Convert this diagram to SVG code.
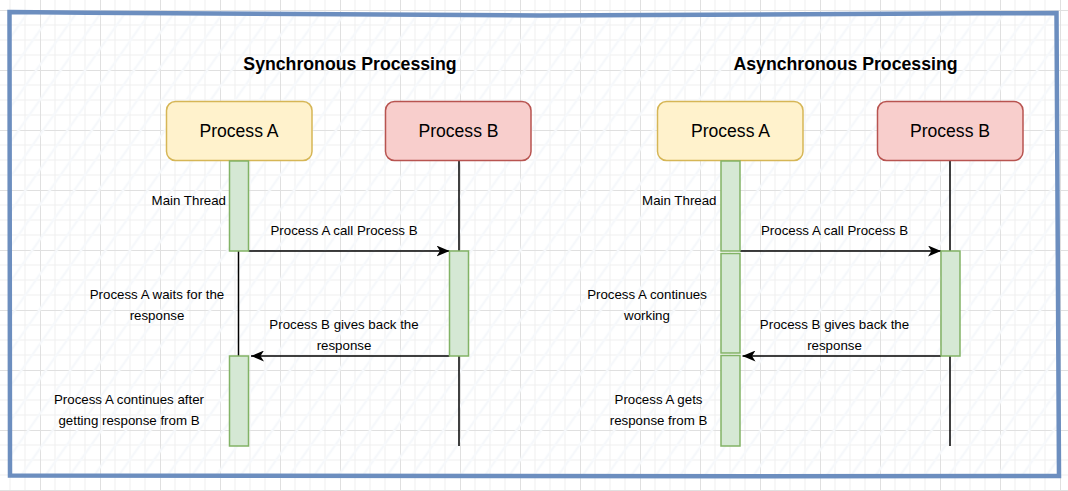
<svg xmlns="http://www.w3.org/2000/svg" width="1068" height="491" viewBox="0 0 1068 491">
  <style>
    text { font-family: "Liberation Sans", Arial, Helvetica, sans-serif; fill: #000; }
    .title { font-size: 17.7px; font-weight: bold; text-anchor: middle; }
    .pname { font-size: 17.6px; text-anchor: middle; }
    .lbl { font-size: 13.3px; text-anchor: middle; }
    .lblr { font-size: 13.3px; text-anchor: end; }
    .procA { fill: #fff2cc; stroke: #d6b656; stroke-width: 1.5; }
    .procB { fill: #f8cecc; stroke: #b85450; stroke-width: 1.5; }
    .act { fill: #d5e8d4; stroke: #82b366; stroke-width: 1.5; }
    .life { stroke: #000; stroke-width: 1.5; fill: none; }
    .msg { stroke: #000; stroke-width: 1.5; fill: none; marker-end: url(#arrow); }
  </style>
  <defs>
    <pattern id="grid" patternUnits="userSpaceOnUse" x="40" y="10" width="60" height="60">
      <rect width="60" height="60" fill="#ffffff"/>
      <path d="M15,0 V60 M30,0 V60 M45,0 V60 M0,15 H60 M0,30 H60 M0,45 H60" stroke="#efefef" stroke-width="1" fill="none"/>
      <path d="M0.5,0 V60 M0,0.5 H60" stroke="#e0e0e0" stroke-width="1" fill="none"/>
    </pattern>
    <pattern id="hatch" patternUnits="userSpaceOnUse" width="20" height="20" patternTransform="rotate(35)">
      <line x1="10" y1="0" x2="10" y2="20" stroke="#f6f8fb" stroke-width="2.5"/>
    </pattern>
    <marker id="arrow" markerUnits="userSpaceOnUse" viewBox="0 0 13 11" refX="13" refY="5.5" markerWidth="13" markerHeight="11" orient="auto">
      <path d="M0,0 L13,5.5 L0,11 L3.5,5.5 Z" fill="#000"/>
    </marker>
  </defs>

  <rect x="0" y="0" width="1068" height="491" fill="url(#grid)"/>

  <g id="frame">
    <path d="M9.5,12 C200,13.5 400,15.5 540,15.5 C760,15.5 900,13.5 1056.5,13 L1059,476 C700,476.5 300,476 10,475.5 Z" fill="url(#hatch)" stroke="none"/>
    <path d="M9.5,12 C200,13.5 400,15.5 540,15.5 C760,15.5 900,13.5 1056.5,13 L1059,476 C700,476.5 300,476 10,475.5 Z" fill="none" stroke="#6c8ebf" stroke-width="4.5" stroke-linejoin="miter"/>
  </g>

  <g id="connectors">
    <line class="life" x1="238.5" y1="251" x2="238.5" y2="356"/>
    <line class="life" x1="459" y1="161" x2="459" y2="251"/>
    <line class="life" x1="459" y1="356" x2="459" y2="446"/>
    <line class="msg" x1="248.5" y1="251" x2="449.5" y2="251"/>
    <line class="msg" x1="449.5" y1="356" x2="251" y2="356"/>

    <line class="life" x1="950" y1="161" x2="950" y2="251"/>
    <line class="life" x1="950" y1="356" x2="950" y2="446"/>
    <line class="msg" x1="740" y1="251" x2="941" y2="251"/>
    <line class="msg" x1="941" y1="356" x2="742.5" y2="356"/>
  </g>

  <g id="sync-title"><text class="title" x="350" y="70">Synchronous Processing</text></g>
  <g id="async-title"><text class="title" x="845.5" y="70">Asynchronous Processing</text></g>

  <g id="sync-process-a">
    <rect class="procA" x="166.5" y="101.5" width="145.5" height="59" rx="9"/>
    <text class="pname" x="239" y="137">Process A</text>
  </g>
  <g id="sync-process-b">
    <rect class="procB" x="385.5" y="101.5" width="145.5" height="59" rx="9"/>
    <text class="pname" x="458.5" y="137">Process B</text>
  </g>
  <g id="async-process-a">
    <rect class="procA" x="657.5" y="101.5" width="145.5" height="59" rx="9"/>
    <text class="pname" x="730.5" y="137">Process A</text>
  </g>
  <g id="async-process-b">
    <rect class="procB" x="877.5" y="101.5" width="145.5" height="59" rx="9"/>
    <text class="pname" x="950" y="137">Process B</text>
  </g>

  <g id="sync-a-act1"><rect class="act" x="229.5" y="161" width="19" height="90"/></g>
  <g id="sync-a-act2"><rect class="act" x="229.5" y="356" width="19" height="90"/></g>
  <g id="sync-b-act"><rect class="act" x="449.5" y="251" width="19" height="105"/></g>

  <g id="async-a-act1"><rect class="act" x="721" y="161" width="19" height="90"/></g>
  <g id="async-a-act2"><rect class="act" x="721" y="253.5" width="19" height="99.5"/></g>
  <g id="async-a-act3"><rect class="act" x="721" y="355.5" width="19" height="90.5"/></g>
  <g id="async-b-act"><rect class="act" x="941" y="251" width="19" height="105"/></g>

  <g id="sync-labels">
    <text class="lblr" x="226" y="204.5">Main Thread</text>
    <text class="lbl" x="344" y="235">Process A call Process B</text>
    <text class="lbl" x="157" y="298.5">Process A waits for the</text>
    <text class="lbl" x="157" y="320">response</text>
    <text class="lbl" x="344" y="328.5">Process B gives back the</text>
    <text class="lbl" x="344" y="350">response</text>
    <text class="lbl" x="129" y="403.5">Process A continues after</text>
    <text class="lbl" x="129" y="425">getting response from B</text>
  </g>
  <g id="async-labels">
    <text class="lblr" x="716.5" y="204.5">Main Thread</text>
    <text class="lbl" x="834.5" y="235">Process A call Process B</text>
    <text class="lbl" x="647" y="298.5">Process A continues</text>
    <text class="lbl" x="647" y="320">working</text>
    <text class="lbl" x="834.5" y="328.5">Process B gives back the</text>
    <text class="lbl" x="834.5" y="350">response</text>
    <text class="lbl" x="658.5" y="403.5">Process A gets</text>
    <text class="lbl" x="658.5" y="425">response from B</text>
  </g>
</svg>
